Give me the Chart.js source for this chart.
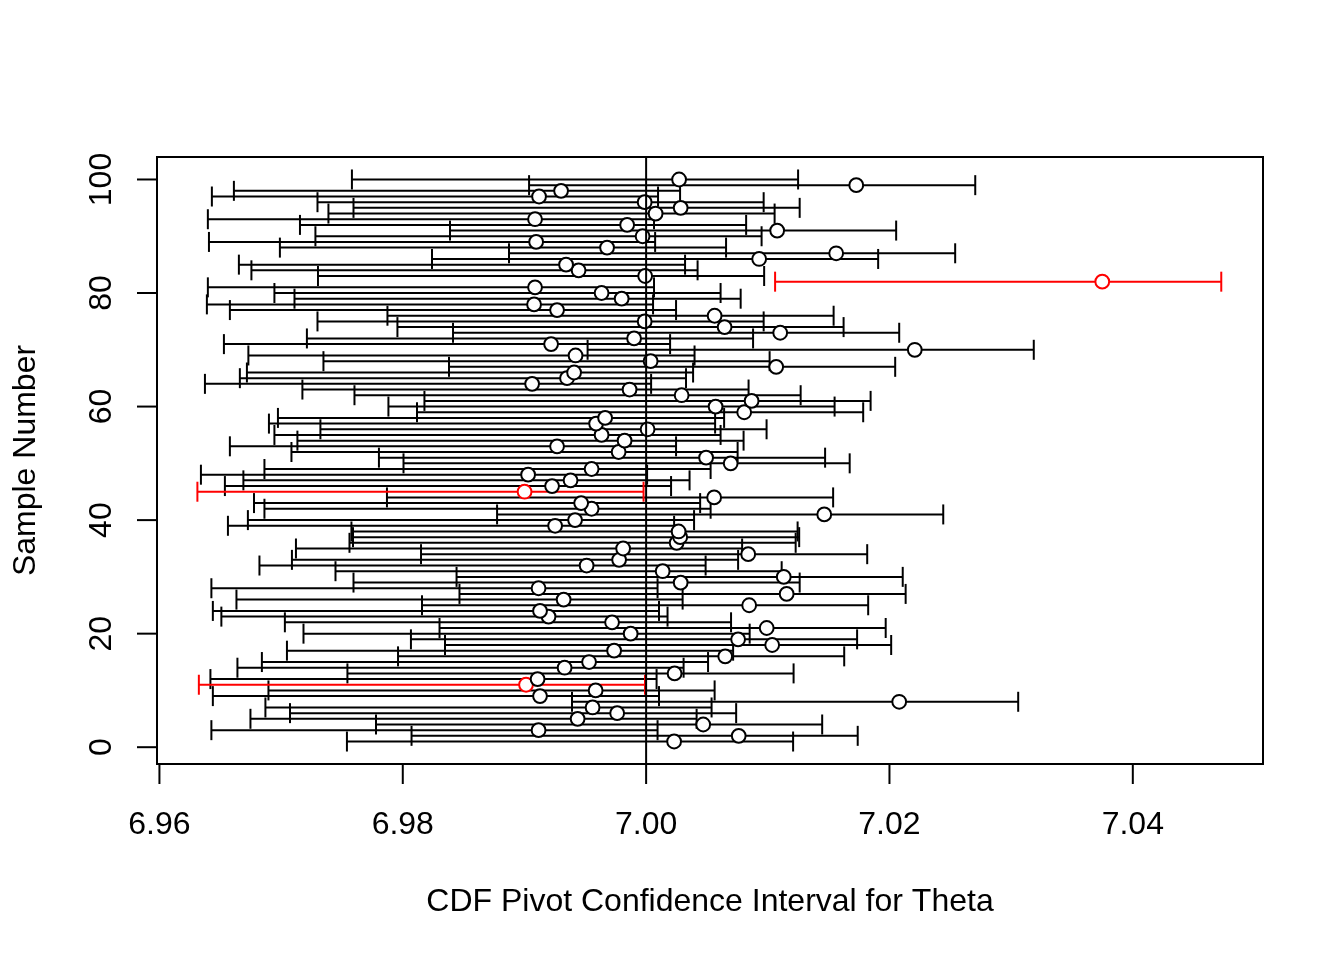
<!DOCTYPE html>
<html lang="en">
<head>
    <meta charset="UTF-8">
    <title>CDF Pivot Confidence Intervals</title>
    <script src="https://cdn.jsdelivr.net/npm/chart.js"></script>
    <style>
        body {
            margin: 0;
            background: #fff;
        }
        #wrap {
            width: 1344px;
            height: 960px;
        }
    </style>
</head>
<body>
    <div id="wrap"><canvas id="ci-chart" width="1344" height="960"></canvas></div>

    <script>
        // true parameter value (vertical reference line)
        const theta = 7.00;

        const sampleNumber = [
            1, 2, 3, 4, 5, 6, 7, 8, 9, 10, 11, 12, 13, 14, 15, 16, 17, 18, 19, 20,
            21, 22, 23, 24, 25, 26, 27, 28, 29, 30, 31, 32, 33, 34, 35, 36, 37, 38, 39, 40,
            41, 42, 43, 44, 45, 46, 47, 48, 49, 50, 51, 52, 53, 54, 55, 56, 57, 58, 59, 60,
            61, 62, 63, 64, 65, 66, 67, 68, 69, 70, 71, 72, 73, 74, 75, 76, 77, 78, 79, 80,
            81, 82, 83, 84, 85, 86, 87, 88, 89, 90, 91, 92, 93, 94, 95, 96, 97, 98, 99, 100
        ];

        const estimate = [
            7.00230, 7.00761, 6.99116, 7.00469, 6.99437, 6.99762, 6.99560, 7.02080, 6.99128, 6.99585,
            6.99013, 6.99108, 7.00234, 6.99330, 6.99531, 7.00650, 6.99737, 7.01036, 7.00756, 6.99873,
            7.00991, 6.99720, 6.99198, 6.99128, 7.00847, 6.99322, 7.01155, 6.99116, 7.00284, 7.01131,
            7.00136, 6.99511, 6.99778, 7.00839, 6.99811, 7.00251, 7.00280, 7.00267, 6.99252, 6.99416,
            7.01464, 6.99552, 6.99466, 7.00559, 6.99001, 6.99227, 6.99379, 6.99030, 6.99552, 7.00695,
            7.00493, 6.99774, 6.99268, 6.99823, 6.99634, 7.00012, 6.99589, 6.99663, 7.00806, 7.00571,
            7.00867, 7.00292, 6.99864, 6.99063, 6.99350, 6.99408, 7.01069, 7.00037, 6.99420, 7.02208,
            6.99219, 6.99901, 7.01102, 7.00645, 6.99988, 7.00563, 6.99268, 6.99079, 6.99799, 6.99634,
            6.99087, 7.03749, 6.99992, 6.99445, 6.99342, 7.00929, 7.01562, 6.99679, 6.99096, 6.99971,
            7.01077, 6.99844, 6.99087, 7.00078, 7.00284, 6.99988, 6.99120, 6.99301, 7.01727, 7.00271
        ];

        const lower = [
            6.97541, 6.98072, 6.96427, 6.97780, 6.96748, 6.97073, 6.96871, 6.99391, 6.96439, 6.96896,
            6.96324, 6.96419, 6.97545, 6.96641, 6.96842, 6.97961, 6.97048, 6.98347, 6.98067, 6.97184,
            6.98302, 6.97031, 6.96509, 6.96439, 6.98158, 6.96633, 6.98466, 6.96427, 6.97595, 6.98442,
            6.97447, 6.96822, 6.97089, 6.98150, 6.97122, 6.97562, 6.97591, 6.97578, 6.96563, 6.96727,
            6.98775, 6.96863, 6.96777, 6.97870, 6.96312, 6.96538, 6.96690, 6.96341, 6.96863, 6.98006,
            6.97804, 6.97085, 6.96579, 6.97134, 6.96945, 6.97323, 6.96900, 6.96974, 6.98117, 6.97882,
            6.98178, 6.97603, 6.97175, 6.96374, 6.96661, 6.96719, 6.98380, 6.97348, 6.96731, 6.99519,
            6.96530, 6.97212, 6.98413, 6.97956, 6.97299, 6.97874, 6.96579, 6.96390, 6.97110, 6.96945,
            6.96398, 7.01060, 6.97303, 6.96756, 6.96653, 6.98240, 6.98873, 6.96990, 6.96407, 6.97282,
            6.98388, 6.97155, 6.96398, 6.97389, 6.97595, 6.97299, 6.96431, 6.96612, 6.99038, 6.97582
        ];

        const upper = [
            7.01208, 7.01739, 7.00094, 7.01447, 7.00415, 7.00740, 7.00538, 7.03058, 7.00106, 7.00563,
            6.99991, 7.00086, 7.01212, 7.00308, 7.00509, 7.01628, 7.00715, 7.02014, 7.01734, 7.00851,
            7.01969, 7.00698, 7.00176, 7.00106, 7.01825, 7.00300, 7.02133, 7.00094, 7.01262, 7.02109,
            7.01114, 7.00489, 7.00756, 7.01817, 7.00789, 7.01229, 7.01258, 7.01245, 7.00230, 7.00394,
            7.02442, 7.00530, 7.00444, 7.01537, 6.99979, 7.00205, 7.00357, 7.00008, 7.00530, 7.01673,
            7.01471, 7.00752, 7.00246, 7.00801, 7.00612, 7.00990, 7.00567, 7.00641, 7.01784, 7.01549,
            7.01845, 7.01270, 7.00842, 7.00041, 7.00328, 7.00386, 7.02047, 7.01015, 7.00398, 7.03186,
            7.00197, 7.00879, 7.02080, 7.01623, 7.00966, 7.01541, 7.00246, 7.00057, 7.00777, 7.00612,
            7.00065, 7.04727, 7.00970, 7.00423, 7.00320, 7.01907, 7.02540, 7.00657, 7.00074, 7.00949,
            7.02055, 7.00822, 7.00065, 7.01056, 7.01262, 7.00966, 7.00098, 7.00279, 7.02705, 7.01249
        ];

        const xTicks = [6.96, 6.98, 7.00, 7.02, 7.04];
        const xTickLabels = ["6.96", "6.98", "7.00", "7.02", "7.04"];
        const yTicks = [0, 20, 40, 60, 80, 100];
        const yTickLabels = ["0", "20", "40", "60", "80", "100"];

        const FONT = '32px "Liberation Sans", Arial, Helvetica, sans-serif';

        // intervals that miss theta are drawn in red
        const missed = sampleNumber.map((s, i) => lower[i] > theta || upper[i] < theta);

        const blackSegs = [];
        const redSegs = [];
        sampleNumber.forEach((s, i) => {
            const target = missed[i] ? redSegs : blackSegs;
            target.push({ x: lower[i], y: s }, { x: upper[i], y: s }, { x: null, y: null });
        });

        const pointData = sampleNumber.map((s, i) => ({ x: estimate[i], y: s }));
        const pointColors = missed.map(m => m ? "#ff0000" : "#000000");

        function intervalSet(data, color) {
            return {
                data: data,
                showLine: true,
                spanGaps: false,
                borderColor: color,
                borderWidth: 2,
                pointStyle: "line",
                rotation: 90,
                pointRadius: 10,
                pointBorderColor: color,
                pointBorderWidth: 2,
                pointHoverRadius: 10,
                order: 2
            };
        }

        // R-style box, ticks and labels, drawn from the chart's own scales
        const rAxes = {
            id: "rAxes",
            afterDatasetsDraw(chart) {
                const ctx = chart.ctx;
                const a = chart.chartArea;
                const xs = chart.scales.x;
                const ys = chart.scales.y;
                ctx.save();
                ctx.strokeStyle = "#000";
                ctx.fillStyle = "#000";
                ctx.lineWidth = 2;
                ctx.lineCap = "butt";

                // abline at theta
                const xt = xs.getPixelForValue(theta);
                ctx.beginPath();
                ctx.moveTo(xt, a.top);
                ctx.lineTo(xt, a.bottom);
                ctx.stroke();

                ctx.strokeRect(a.left, a.top, a.right - a.left, a.bottom - a.top);

                ctx.font = FONT;
                // x axis
                ctx.textAlign = "center";
                ctx.textBaseline = "alphabetic";
                xTicks.forEach((v, i) => {
                    const px = xs.getPixelForValue(v);
                    ctx.beginPath();
                    ctx.moveTo(px, a.bottom + 1);
                    ctx.lineTo(px, a.bottom + 20);
                    ctx.stroke();
                    ctx.fillText(xTickLabels[i], px, 834);
                });
                // y axis
                yTicks.forEach((v, i) => {
                    const py = ys.getPixelForValue(v);
                    ctx.beginPath();
                    ctx.moveTo(a.left - 1, py);
                    ctx.lineTo(a.left - 20, py);
                    ctx.stroke();
                    ctx.save();
                    ctx.translate(111, py);
                    ctx.rotate(-Math.PI / 2);
                    ctx.fillText(yTickLabels[i], 0, 0);
                    ctx.restore();
                });

                // axis titles
                ctx.fillText("CDF Pivot Confidence Interval for Theta", (a.left + a.right) / 2, 911);
                ctx.save();
                ctx.translate(34.5, (a.top + a.bottom) / 2);
                ctx.rotate(-Math.PI / 2);
                ctx.fillText("Sample Number", 0, 0);
                ctx.restore();

                ctx.restore();
            }
        };

        new Chart(document.getElementById("ci-chart"), {
            type: "scatter",
            data: {
                datasets: [
                    {
                        data: pointData,
                        pointStyle: "circle",
                        pointRadius: 6.9,
                        pointBorderWidth: 2,
                        pointBackgroundColor: "#ffffff",
                        pointBorderColor: pointColors,
                        order: 0
                    },
                    intervalSet(redSegs, "#ff0000"),
                    intervalSet(blackSegs, "#000000")
                ]
            },
            options: {
                responsive: false,
                animation: false,
                devicePixelRatio: 1,
                layout: {
                    padding: { left: 157, right: 81, top: 157, bottom: 196 }
                },
                scales: {
                    x: { type: "linear", min: 6.9598, max: 7.0507, display: false },
                    y: { type: "linear", min: -2.96, max: 103.96, display: false }
                },
                plugins: {
                    legend: { display: false },
                    tooltip: { enabled: false }
                }
            },
            plugins: [rAxes]
        });
    </script>
</body>
</html>
